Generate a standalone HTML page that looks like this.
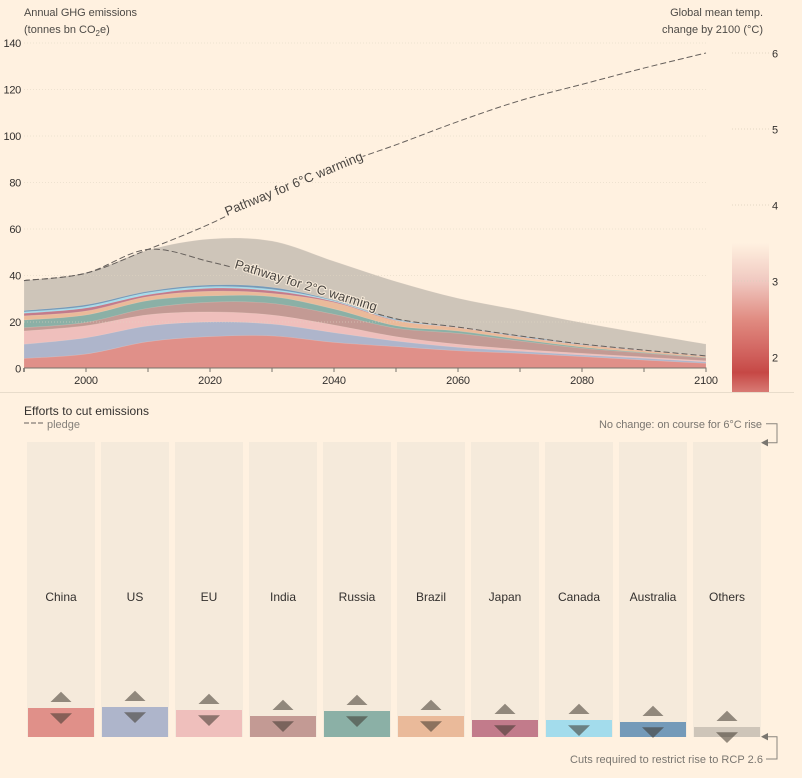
<!DOCTYPE html>
<html lang="en">
<head>
<meta charset="utf-8">
<title>Annual GHG emissions and efforts to cut emissions</title>
<style>
html,body{margin:0;padding:0;background:#fff1e0;width:802px;height:778px;overflow:hidden}
svg{display:block;font-family:"Liberation Sans",sans-serif}
text{font-size:11px}
</style>
</head>
<body>
<svg id="chart" xmlns="http://www.w3.org/2000/svg" width="802" height="778" viewBox="0 0 802 778">
  <defs>
    <linearGradient id="tempGradient" x1="0" y1="0" x2="0" y2="1">
      <stop offset="0" stop-color="#fff1e0"/>
      <stop offset="0.26" stop-color="#f0c8c0"/>
      <stop offset="0.52" stop-color="#e08a80"/>
      <stop offset="0.75" stop-color="#d0605c"/>
      <stop offset="0.87" stop-color="#c64845"/>
      <stop offset="1" stop-color="#d87a74"/>
    </linearGradient>
    <mask id="pathMask" maskUnits="userSpaceOnUse" x="0" y="0" width="802" height="778">
      <rect x="0" y="0" width="802" height="778" fill="#fff"/>
      <rect x="-2" y="-14" width="145" height="20" fill="#000" transform="translate(227 216) rotate(-22.4)"/>
      <rect x="-2" y="-14" width="146" height="20" fill="#000" transform="translate(234 268) rotate(17)"/>
    </mask>
  </defs>

  <g id="areas"></g>
  <g id="grid"></g>
  <g id="paths" mask="url(#pathMask)"></g>
  <g id="axes"></g>

  <text x="24" y="16" fill="#4d4a46" textLength="113">Annual GHG emissions</text>
  <text x="24" y="33" fill="#4d4a46">(tonnes bn CO<tspan font-size="8" dy="3">2</tspan><tspan dy="-3">e)</tspan></text>
  <text x="763" y="16" text-anchor="end" fill="#4d4a46">Global mean temp.</text>
  <text x="763" y="33" text-anchor="end" fill="#4d4a46">change by 2100 (°C)</text>

  <text x="227" y="216" transform="rotate(-22.4 227 216)" fill="#4a4642" stroke="#fff1e0" stroke-width="2" paint-order="stroke" style="font-size:13px" textLength="148">Pathway for 6°C warming</text>
  <text x="234" y="268" transform="rotate(17 234 268)" fill="#4a4642" stroke="#fff1e0" stroke-opacity="0.8" stroke-width="2.2" paint-order="stroke" style="font-size:13px" textLength="148">Pathway for 2°C warming</text>

  <rect x="0" y="392" width="794" height="1" fill="#e8dccb"/>

  <text x="24" y="415" fill="#33302e" style="font-size:12px" textLength="125">Efforts to cut emissions</text>
  <line x1="24" y1="423" x2="44" y2="423" stroke="#66605c" stroke-width="1" stroke-dasharray="5 2"/>
  <text x="47" y="428" fill="#85807a">pledge</text>

  <text x="762" y="428" text-anchor="end" fill="#7a7670" textLength="163">No change: on course for 6°C rise</text>
  <path d="M766 423.7H777V442.7H766" fill="none" stroke="#8a857e" stroke-width="1"/>
  <path d="M761 442.7L768 439V446.4Z" fill="#7a7670"/>

  <g id="bars"></g>

  <path d="M766 759H777V736.7H766" fill="none" stroke="#8a857e" stroke-width="1"/>
  <path d="M761 736.7L768 733V740.4Z" fill="#7a7670"/>
  <text x="763" y="763" text-anchor="end" fill="#7a7670" textLength="193">Cuts required to restrict rise to RCP 2.6</text>
</svg>

<script>
// ---- Chart data ----
const years = [1990, 2000, 2010, 2020, 2030, 2040, 2050, 2060, 2070, 2080, 2090, 2100];
const regionNames = ['China', 'US', 'EU', 'India', 'Russia', 'Brazil', 'Japan', 'Canada', 'Australia', 'Others'];
const china = [4.1, 6.0, 11.3, 13.5, 13.8, 11.0, 9.2, 7.4, 6.3, 4.9, 3.4, 2.0];
const us = [6.1, 7.0, 6.8, 6.3, 5.1, 4.2, 2.4, 1.5, 0.9, 0.7, 0.8, 0.6];
const eu = [5.7, 5.2, 4.8, 4.3, 3.9, 3.3, 1.9, 1.3, 0.8, 0.7, 0.5, 0.5];
const india = [1.4, 1.4, 2.8, 4.2, 5.0, 4.6, 3.6, 4.7, 3.6, 2.2, 1.7, 1.2];
const russia = [3.3, 3.2, 3.3, 2.7, 2.9, 2.3, 1.1, 1.0, 0.7, 0.5, 0.3, 0.2];
const brazil = [1.8, 1.7, 1.7, 2.0, 1.4, 2.8, 2.1, 1.4, 1.0, 0.9, 0.7, 0.4];
const japan = [1.1, 1.3, 0.8, 1.3, 1.1, 0.4, 0.2, 0.1, 0.1, 0.1, 0.1, 0.05];
const canada = [0.6, 0.7, 0.9, 0.7, 0.6, 0.3, 0.2, 0.1, 0.1, 0.1, 0.05, 0.05];
const australia = [0.6, 0.7, 0.6, 0.7, 0.9, 0.3, 0.3, 0.1, 0.3, 0.2, 0.05, 0.1];
const others = [12.9, 13.8, 17.7, 19.8, 19.9, 16.7, 16.2, 12.4, 11.0, 9.2, 7.2, 5.2];
const pathway6 = [37.6, 40.8, 51, 62, 75, 86.5, 96, 106, 115, 122, 129, 135.5];
const pathway2 = [37.6, 40.8, 51, 45.7, 38.5, 29.4, 21.2, 17.6, 13.8, 10.3, 7.7, 5.2];
const leftTicks = [0, 20, 40, 60, 80, 100, 120, 140];
const xLabelTicks = [2000, 2020, 2040, 2060, 2080, 2100];
const xMinorTicks = [1990, 2010, 2030, 2050, 2070, 2090];
const tempTicks = [2, 3, 4, 5, 6];
const requiredCuts = [29, 30, 27, 21, 26, 21, 17, 17, 15, 10];

// ---- Axis functions ----
const xScale = y => 24 + (y - 1990) * 6.2;
const yScale = v => 368 - v * 2.325;
const tempScale = t => 357 - (t - 2) * 76;
const barTop = v => 737 - v;

const SVGNS = 'http://www.w3.org/2000/svg';
const regionSeries = [china, us, eu, india, russia, brazil, japan, canada, australia, others];
const regionColors = ['#e09089', '#aeb5cb', '#efbfbc', '#c39a94', '#8bb0a6', '#eaba9a', '#c27b8b', '#a3dcec', '#749ab9', '#cec5b9'];

function make(tag, parent, attrs) {
  const el = document.createElementNS(SVGNS, tag);
  for (const k in attrs) el.setAttribute(k, attrs[k]);
  parent.appendChild(el);
  return el;
}

// Catmull-Rom spline through the points, expressed as cubic Beziers
function curveSegments(pts) {
  const n = pts.length;
  let d = '';
  for (let i = 0; i < n - 1; i++) {
    const p0 = pts[Math.max(i - 1, 0)];
    const p1 = pts[i];
    const p2 = pts[i + 1];
    const p3 = pts[Math.min(i + 2, n - 1)];
    d += 'C' + (p1[0] + (p2[0] - p0[0]) / 6).toFixed(2) + ' ' + (p1[1] + (p2[1] - p0[1]) / 6).toFixed(2) + ' ' +
      (p2[0] - (p3[0] - p1[0]) / 6).toFixed(2) + ' ' + (p2[1] - (p3[1] - p1[1]) / 6).toFixed(2) + ' ' +
      p2[0].toFixed(2) + ' ' + p2[1].toFixed(2);
  }
  return d;
}
function linePath(values) {
  const pts = values.map((v, i) => [xScale(years[i]), yScale(v)]);
  return 'M' + pts[0][0] + ' ' + pts[0][1] + curveSegments(pts);
}

// ---- Stacked areas (painted top layer first) ----
const areasG = document.getElementById('areas');
const cumulative = [];
regionSeries.forEach((s, r) => {
  cumulative.push(s.map((v, i) => v + (r ? cumulative[r - 1][i] : 0)));
});
for (let r = regionSeries.length - 1; r >= 0; r--) {
  const d = linePath(cumulative[r]) + 'L' + xScale(years[years.length - 1]) + ' ' + yScale(0) + 'L' + xScale(years[0]) + ' ' + yScale(0) + 'Z';
  const area = make('path', areasG, { d: d, fill: regionColors[r], stroke: '#fff1e0', 'stroke-opacity': 0.25, 'stroke-width': 0.6 });
  
  
}

// ---- Gridlines ----
const gridG = document.getElementById('grid');
leftTicks.filter(t => t > 0).forEach(t => {
  const gl = make('line', gridG, { x1: 24, x2: 706, y1: yScale(t) + 0.5, y2: yScale(t) + 0.5, stroke: '#e0d5c2', 'stroke-opacity': 0.55, 'stroke-dasharray': '1 2' });
  
  
});

// ---- Pathway lines ----
const pathsG = document.getElementById('paths');
const p6 = make('path', pathsG, { d: linePath(pathway6), fill: 'none', stroke: '#66605c', 'stroke-width': 1, 'stroke-dasharray': '6 3' });


const p2 = make('path', pathsG, { d: linePath(pathway2), fill: 'none', stroke: '#66605c', 'stroke-width': 1, 'stroke-dasharray': '6 3' });



// ---- Axes ----
const axesG = document.getElementById('axes');
leftTicks.forEach(t => {
  const lb = make('text', axesG, { x: 21, y: yScale(t) + 4.5, 'text-anchor': 'end', fill: '#33302e', 'letter-spacing': '-0.3' });
  lb.textContent = t;
  
  
});
const baseline = make('line', axesG, { x1: 24, x2: 706.5, y1: 368, y2: 368, stroke: '#77726c', 'stroke-width': 1 });


xLabelTicks.concat(xMinorTicks).forEach(y => {
  const tk = make('line', axesG, { x1: xScale(y), x2: xScale(y), y1: 368, y2: 372, stroke: '#77726c', 'stroke-width': y === 1990 ? 1.6 : 1 });
  
  
});
xLabelTicks.forEach(y => {
  const lb = make('text', axesG, { x: xScale(y), y: 384, 'text-anchor': 'middle', fill: '#33302e', 'letter-spacing': '-0.2' });
  lb.textContent = y;
  
  
});

// Temperature scale
const tempBar = make('rect', axesG, { x: 732, y: 243, width: 37, height: 149, fill: 'url(#tempGradient)' });


tempTicks.forEach(t => {
  if (t > 2) {
    const tl = make('line', axesG, { x1: 732, x2: 769, y1: tempScale(t), y2: tempScale(t), stroke: '#d9cdb9', 'stroke-opacity': 0.75, 'stroke-dasharray': '1 2' });
    
    
  }
  const lb = make('text', axesG, { x: 772, y: tempScale(t) + 4.5, fill: '#33302e' });
  lb.textContent = t;
  
  
});

// ---- Country columns ----
const barsG = document.getElementById('bars');
const triangleFill = 'rgba(62,54,46,0.55)';
regionNames.forEach((name, i) => {
  const slug = name.toLowerCase();
  const left = 27 + i * 74;
  const cx = left + 34;
  const top = barTop(requiredCuts[i]);

  const col = make('rect', barsG, { x: left, y: 442, width: 68, height: 295, fill: '#f5eadb' });
  
  

  const bar = make('rect', barsG, { x: left + 1, y: top, width: 66, height: 737 - top, fill: regionColors[i] });
  
  

  const up = make('path', barsG, { d: 'M' + (cx - 10.5) + ' ' + (top - 6) + 'L' + cx + ' ' + (top - 16.3) + 'L' + (cx + 10.5) + ' ' + (top - 6) + 'Z', fill: triangleFill });
  
  

  const down = make('path', barsG, { d: 'M' + (cx - 11) + ' ' + (top + 5.3) + 'L' + (cx + 11) + ' ' + (top + 5.3) + 'L' + cx + ' ' + (top + 16) + 'Z', fill: triangleFill });
  
  

  const lb = make('text', barsG, { x: cx, y: 601, 'text-anchor': 'middle', fill: '#33302e', style: 'font-size:12px' });
  lb.textContent = name;
  
  
});
</script>
</body>
</html>
